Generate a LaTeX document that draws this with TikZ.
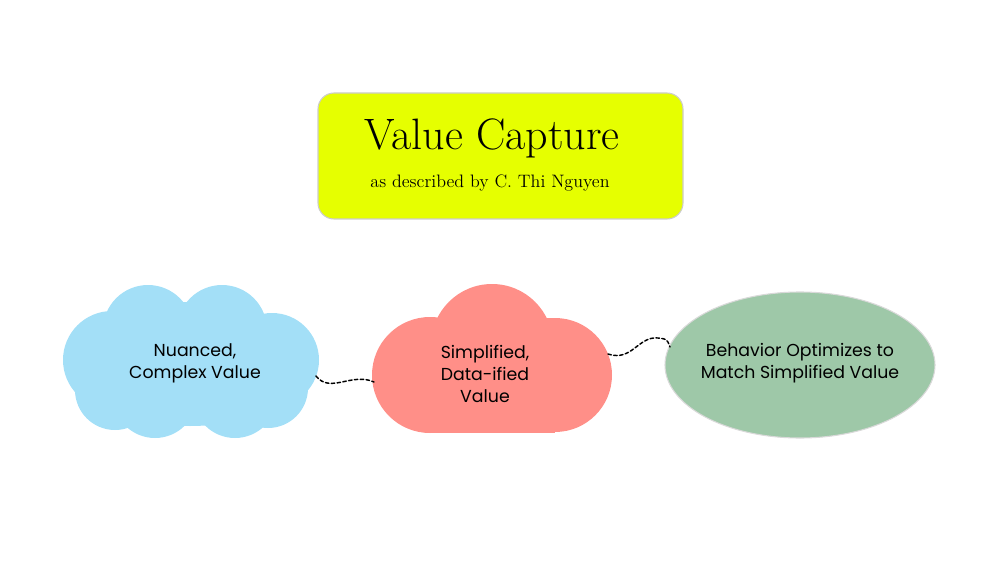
\documentclass[tikz,border=0pt]{standalone}
\usepackage{fontspec}
\newfontfamily\bodyfont{Poppins}
\definecolor{capyellow}{RGB}{230,255,0}
\definecolor{cloudblue}{RGB}{163,223,247}
\definecolor{cloudred}{RGB}{255,143,136}
\definecolor{ovalgreen}{RGB}{158,200,168}

\begin{document}
\begin{tikzpicture}[x=0.75pt, y=-0.75pt, line cap=round, line join=round]
  \tikzset{
    titletext/.style={font=\fontsize{33}{38}\selectfont, inner sep=0pt},
    subtext/.style={font=\fontsize{13.5}{16}\selectfont, inner sep=0pt},
    lbl/.style={font=\bodyfont\fontsize{13}{16.5}\selectfont, align=center, inner sep=0pt},
    link/.style={line width=1.1pt, draw=black, dash pattern=on 2.6pt off 1.8pt}
  }

  \useasboundingbox (0,0) rectangle (1000,563);

  % title box
  \filldraw[capyellow, draw=black!20, line width=0.8pt, rounded corners=12pt] (318,93) rectangle (683,219);
  \node[titletext] (title) at (492,138) {Value Capture};
  \node[subtext] (subtitle) at (490,183) {as described by C. Thi Nguyen};

  % blue cloud
  \begin{scope}[cloudblue]
    \fill (190,364) ellipse [x radius=118, y radius=62];
    \fill (148,330) circle [radius=45];
    \fill (222,330) circle [radius=45];
    \fill (112,360) circle [radius=49];
    \fill (272,360) circle [radius=47];
    \fill (115,390) circle [radius=40];
    \fill (155,396) circle [radius=42];
    \fill (235,396) circle [radius=42];
    \fill (268,388) circle [radius=40];
  \end{scope}
  \node[lbl] (nuanced) at (195,363) {Nuanced,\\Complex Value};

  % red cloud
  \begin{scope}[cloudred]
    \fill (430,375) circle [radius=58];
    \fill (555,375) circle [radius=57];
    \fill (430,318) rectangle (555,433);
    \fill (492,345) circle [radius=61];
  \end{scope}
  \node[lbl] (simplified) at (485,374) {Simplified,\\Data-ified\\Value};

  % green oval
  \filldraw[ovalgreen, draw=black!15, line width=0.8pt] (800,365) ellipse [x radius=135, y radius=73];
  \node[lbl] (behavior) at (800,363) {Behavior Optimizes to\\Match Simplified Value};

  % dashed links
  \coordinate (blueR) at (316,376);
  \coordinate (redL) at (374,382);
  \coordinate (redR) at (608,354);
  \coordinate (greenL) at (670,347);
  \draw[link] (blueR) .. controls (330,394) and (352,372) .. (redL);
  \draw[link] (redR) .. controls (632,362) and (638,336) .. (658,338) .. controls (667,339) .. (greenL);
\end{tikzpicture}
\end{document}
